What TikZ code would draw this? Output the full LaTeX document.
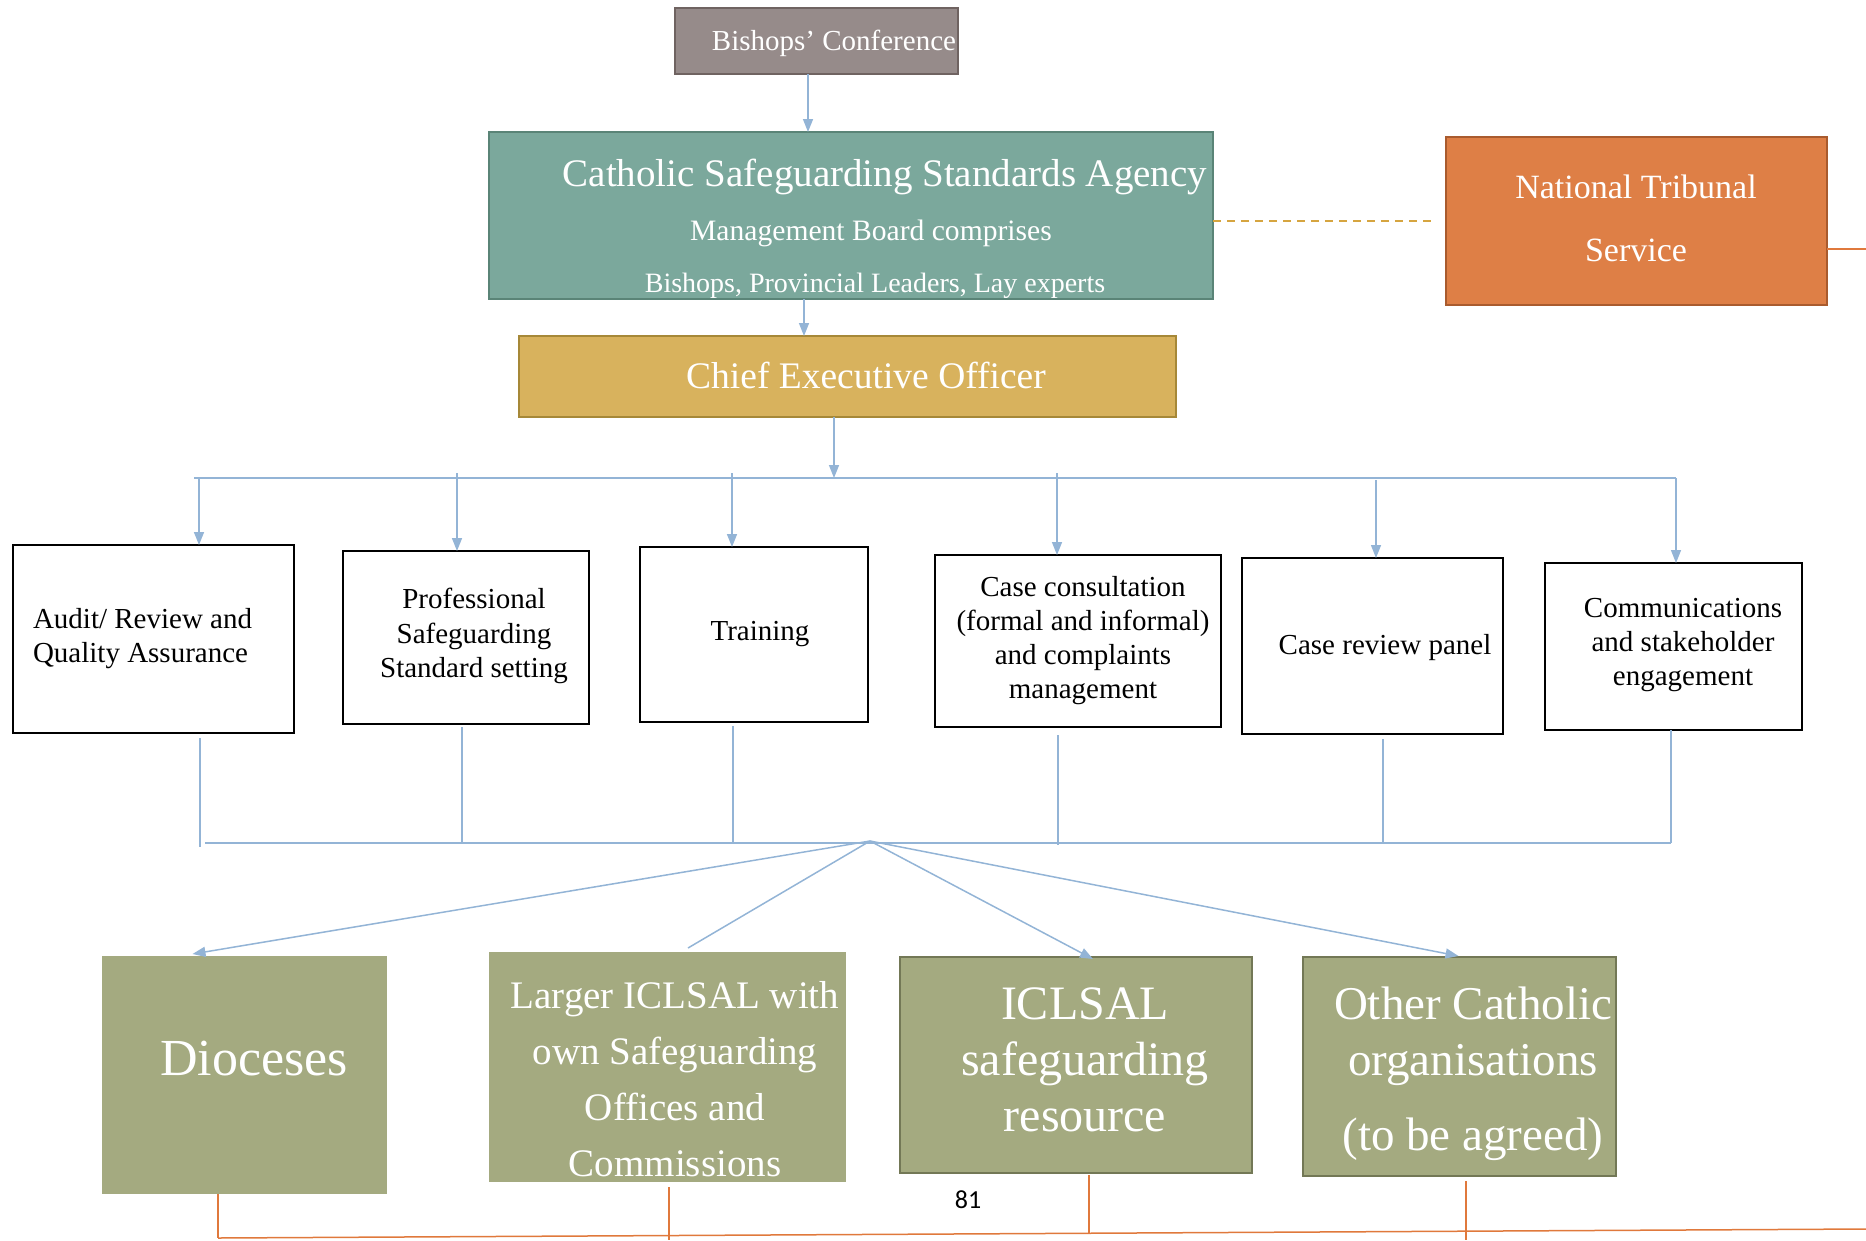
\documentclass[tikz,border=0pt]{standalone}
\usepackage{fontspec}
\setmainfont{Liberation Serif}
\newfontfamily\pagefont{Carlito}
\usetikzlibrary{arrows.meta,calc}
\definecolor{bcfill}{HTML}{968B8A}
\definecolor{bcdraw}{HTML}{6F6361}
\definecolor{csfill}{HTML}{7BA89C}
\definecolor{csdraw}{HTML}{5A8477}
\definecolor{ntfill}{HTML}{DE7F46}
\definecolor{ntdraw}{HTML}{A95B2E}
\definecolor{cefill}{HTML}{D8B25D}
\definecolor{cedraw}{HTML}{A68838}
\definecolor{olfill}{HTML}{A4AA80}
\definecolor{oldraw}{HTML}{737856}
\definecolor{conblue}{HTML}{93B4D6}
\definecolor{conorange}{HTML}{E0793C}
\definecolor{dashgold}{HTML}{D6A540}
\tikzset{
  boxshape/.style={rectangle,inner sep=0pt,outer sep=0pt},
  whitebox/.style={boxshape,draw=black,fill=white,line width=2.5pt},
  lbl/.style={inner sep=0pt,outer sep=0pt,align=center},
  wlbl/.style={lbl,text=white},
  arr/.style={draw=conblue,line width=1.5pt,-{Triangle[length=13pt,width=10pt]}},
  plain/.style={draw=conblue,line width=1.5pt},
  orl/.style={draw=conorange,line width=1.5pt},
}
\newcommand{\fs}[2]{\fontsize{#1}{#2}\selectfont}
\begin{document}
\begin{tikzpicture}[x=1pt,y=-1pt]
\useasboundingbox (0,0) rectangle (1866,1240);
% top boxes
\node[boxshape,draw=bcdraw,fill=bcfill,line width=2.5pt,minimum width=283pt,minimum height=66pt] (bc) at (816.5,41) {};
\node[boxshape,draw=csdraw,fill=csfill,line width=2.5pt,minimum width=724pt,minimum height=167pt] (cssa) at (851,215.5) {};
\node[boxshape,draw=ntdraw,fill=ntfill,line width=2.5pt,minimum width=381pt,minimum height=168pt] (nts) at (1636.5,221) {};
\node[boxshape,draw=cedraw,fill=cefill,line width=2.5pt,minimum width=657pt,minimum height=81pt] (ceo) at (847.5,376.5) {};
% labels top
\node[wlbl,font=\fs{29}{34}] (bct) at (834,43.5) {Bishops’ Conference};
\node[wlbl,font=\fs{39}{46}] (cst1) at (885,176.5) {Catholic Safeguarding Standards Agency};
\node[wlbl,font=\fs{29.6}{34}] (cst2) at (871,233.5) {Management Board comprises};
\node[wlbl,font=\fs{28}{34}] (cst3) at (875,285.5) {Bishops, Provincial Leaders, Lay experts};
\node[wlbl,font=\fs{34}{63}] (ntt) at (1636,218) {National Tribunal\\Service};
\node[wlbl,font=\fs{37.5}{44}] (ceot) at (866,375) {Chief Executive Officer};
% middle boxes
\node[whitebox,minimum width=281pt,minimum height=188pt] (b1) at (153.5,639) {};
\node[whitebox,minimum width=246pt,minimum height=173pt] (b2) at (466,637.5) {};
\node[whitebox,minimum width=228pt,minimum height=175pt] (b3) at (754,634.5) {};
\node[whitebox,line width=1.3pt,minimum width=286pt,minimum height=172pt] (b4) at (1078,641) {};
\node[whitebox,minimum width=261pt,minimum height=176pt] (b5) at (1372.5,646) {};
\node[whitebox,line width=2pt,minimum width=257pt,minimum height=167pt] (b6) at (1673.5,646.5) {};
\node[lbl,align=left,anchor=west,font=\fs{29}{34}] (b1t) at (33,638.5) {Audit/ Review and\\Quality Assurance};
\node[lbl,font=\fs{29}{34.5}] (b2t) at (474,636) {Professional\\Safeguarding\\Standard setting};
\node[lbl,font=\fs{29}{34}] (b3t) at (760,634.5) {Training};
\node[lbl,font=\fs{29}{34}] (b4t) at (1083,641) {Case consultation\\(formal and informal)\\and complaints\\management};
\node[lbl,font=\fs{29}{34}] (b5t) at (1385,647.5) {Case review panel};
\node[lbl,font=\fs{29}{34}] (b6t) at (1683,645.5) {Communications\\and stakeholder\\engagement};
% bottom boxes
\node[boxshape,fill=olfill,minimum width=285pt,minimum height=238pt] (d1) at (244.5,1075) {};
\node[boxshape,fill=olfill,minimum width=357pt,minimum height=230pt] (d2) at (667.5,1067) {};
\node[boxshape,fill=olfill,draw=oldraw,line width=2.5pt,minimum width=352pt,minimum height=216pt] (d3) at (1076,1065) {};
\node[boxshape,fill=olfill,draw=oldraw,line width=2.5pt,minimum width=313pt,minimum height=219pt] (d4) at (1459.5,1066.5) {};
\node[wlbl,font=\fs{52}{60}] (d1t) at (254,1058.5) {Dioceses};
\node[wlbl,font=\fs{39}{56}] (d2t) at (675,1079) {Larger ICLSAL with\\own Safeguarding\\Offices and\\Commissions};
\node[wlbl,font=\fs{48}{56}] (d3t) at (1085,1060) {ICLSAL\\safeguarding\\resource};
\node[wlbl,font=\fs{47}{56}] (d4t) at (1473,1074) {Other Catholic\\organisations\\[19pt](to be agreed)};
\node[lbl,font=\pagefont\fs{26}{30}] (pg) at (968,1200) {81};
% top connectors
\draw[arr] ([xshift=-8.5pt]bc.south) -- ([xshift=-8.5pt]bc.south |- cssa.north);
\draw[arr] ([xshift=-47pt]cssa.south) -- ([xshift=-47pt]cssa.south |- ceo.north);
\draw[dashgold,line width=1.5pt,dash pattern=on 8pt off 6pt] (cssa.east |- nts.west) -- ([xshift=-11pt]nts.west);
\coordinate (busL) at (194,478);
\coordinate (busR) at (1676,478);
\draw[arr] ([xshift=-13.5pt]ceo.south) -- ([xshift=-13.5pt]ceo.south |- busL);
\draw[plain] (busL) -- (busR);
\draw[arr] ([xshift=45.5pt]b1.north |- busL) -- ([xshift=45.5pt]b1.north);
\draw[arr] ([xshift=-9pt,yshift=5pt]b2.north |- busL) -- ([xshift=-9pt]b2.north);
\draw[arr] ([xshift=-22pt,yshift=5pt]b3.north |- busL) -- ([xshift=-22pt]b3.north);
\draw[arr] ([xshift=-21pt,yshift=5pt]b4.north |- busL) -- ([xshift=-21pt]b4.north);
\draw[arr] ([xshift=3.5pt,yshift=-2pt]b5.north |- busL) -- ([xshift=3.5pt]b5.north);
\draw[arr] ([xshift=2.5pt]b6.north |- busL) -- ([xshift=2.5pt]b6.north);
% lower bus
\coordinate (lbL) at (205,843);
\coordinate (lbR) at (1671,843);
\coordinate (hub) at (870,841);
\draw[plain] (lbL) -- (lbR);
\draw[plain] ([xshift=46.5pt,yshift=-5pt]b1.south) -- ([xshift=46.5pt]b1.south |- 0,847);
\draw[plain] ([xshift=-4pt,yshift=-3pt]b2.south) -- ([xshift=-4pt]b2.south |- lbL);
\draw[plain] ([xshift=-21pt,yshift=-4pt]b3.south) -- ([xshift=-21pt]b3.south |- lbL);
\draw[plain] ([xshift=-20pt,yshift=-8pt]b4.south) -- ([xshift=-20pt]b4.south |- 0,845);
\draw[plain] ([xshift=10.5pt,yshift=-5pt]b5.south) -- ([xshift=10.5pt]b5.south |- lbL);
\draw[plain] ([xshift=-2.5pt]b6.south) -- ([xshift=-2.5pt]b6.south |- lbR);
% hub to bottom boxes
\draw[arr] (hub) -- ([xshift=-52pt,yshift=2pt]d1.north);
\draw[plain] (hub) -- ([xshift=20.5pt,yshift=4pt]d2.north);
\draw[arr] (hub) -- ([xshift=17pt,yshift=-2pt]d3.north);
\draw[arr] (hub) -- ([xshift=-1pt,yshift=1pt]d4.north);
% orange lines
\coordinate (obL) at (218,1238);
\coordinate (obR) at (1866,1229);
\draw[orl] (obL) -- (obR);
\draw[orl] ([xshift=-26.5pt]d1.south) -- (obL);
\draw[orl] ([xshift=1.5pt,yshift=-5pt]d2.south) -- ([xshift=1.5pt]d2.south |- 0,1240);
\draw[orl] ([xshift=13pt,yshift=-2pt]d3.south) -- ([xshift=13pt]d3.south |- 0,1233);
\draw[orl] ([xshift=6.5pt,yshift=-5pt]d4.south) -- ([xshift=6.5pt]d4.south |- 0,1240);
\coordinate (ntend) at (1866,249);
\draw[orl] ([yshift=-28pt]nts.east) -- (ntend);
\end{tikzpicture}
\end{document}
